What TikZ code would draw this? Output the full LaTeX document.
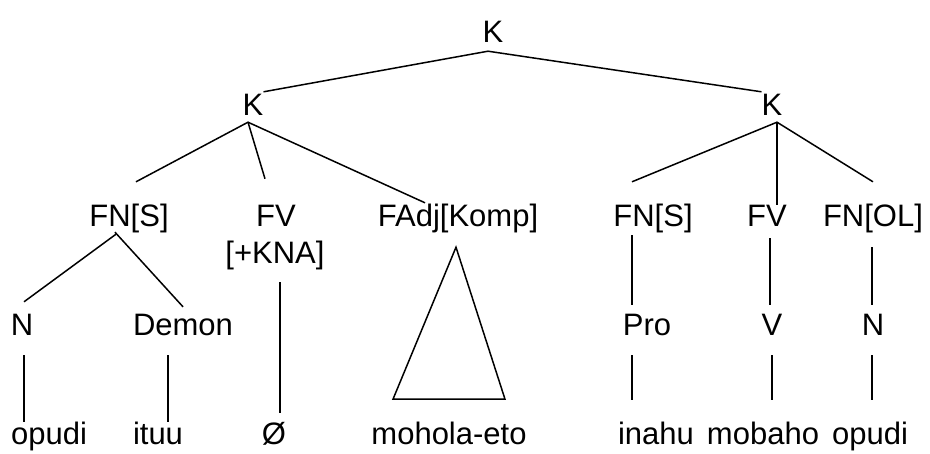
\documentclass[tikz,border=0pt]{standalone}
\usepackage{fontspec}
\setmainfont{Liberation Sans}
\tikzset{
  lbl/.style={font=\fontsize{31}{37}\selectfont, inner sep=0pt, text height=23pt, text depth=7pt, anchor=base},
  branch/.style={line width=1.5pt}
}
\begin{document}
\begin{tikzpicture}[x=1pt,y=-1pt]
\useasboundingbox (0,0) rectangle (930,453);
% clause nodes
\node[lbl] (K0) at (493,42) {K};
\node[lbl] (K1) at (253,115) {K};
\node[lbl] (K2) at (772,115) {K};
% phrases
\node[lbl] (FNS1) at (129,226) {FN[S]};
\node[lbl] (FV1) at (276,226) {FV};
\node[lbl] (KNA) at (275,263) {[+KNA]};
\node[lbl] (FAdj) at (458,226) {FAdj[Komp]};
\node[lbl] (FNS2) at (653,226) {FN[S]};
\node[lbl] (FV2) at (767,226) {FV};
\node[lbl] (FNOL) at (873,226) {FN[OL]};
% word classes
\node[lbl] (N1) at (22,335) {N};
\node[lbl] (Demon) at (183,335) {Demon};
\node[lbl] (Pro) at (647,335) {Pro};
\node[lbl] (V) at (772,335) {V};
\node[lbl] (N2) at (873,335) {N};
% words
\node[lbl] (opudi1) at (49,444) {opudi};
\node[lbl] (ituu) at (158,444) {ituu};
\node[lbl] (empty) at (274,444) {Ø};
\node[lbl] (mohola) at (449,444) {mohola-eto};
\node[lbl] (inahu) at (656,444) {inahu};
\node[lbl] (mobaho) at (763,444) {mobaho};
\node[lbl] (opudi2) at (870,444) {opudi};

\draw[branch] (K1.north east) -- ([shift={(-5pt,-2pt)}]K0.south) -- (K2.north west);
\draw[branch] ([shift={(7pt,21pt)}]FNS1.north) -- ([xshift=-5pt]K1.south) -- ([shift={(-33pt,0pt)}]FAdj.north);
\draw[branch] ([xshift=-5pt]K1.south) -- ([shift={(-11pt,24pt)}]FV1.north);
\draw[branch] ([shift={(-21pt,21pt)}]FNS2.north) -- ([xshift=5pt]K2.south) -- ([yshift=21pt]FNOL.north);
\draw[branch] ([xshift=5pt]K2.south) -- ([shift={(10pt,-2pt)}]FV2.north);
\draw[branch] ([shift={(-13pt,-1pt)}]FNS1.south) -- ([shift={(2pt,10pt)}]N1.north);
\draw[branch] ([shift={(-14pt,1pt)}]FNS1.south) -- ([yshift=5pt]Demon.north);
\draw[branch] ([shift={(5pt,-12pt)}]KNA.south) -- ([shift={(6pt,8pt)}]empty.north);
\draw[branch] ([shift={(-2pt,-14pt)}]FAdj.south) -- ++(-63,152) -- ++(112,0) -- cycle;
\draw[branch] ([shift={(-21pt,-2pt)}]FNS2.south) -- ([shift={(-15pt,7pt)}]Pro.north);
\draw[branch] ([shift={(3pt,-5pt)}]FV2.south) -- ([shift={(-2pt,7pt)}]V.north);
\draw[branch] ([shift={(-1pt,-14pt)}]FNOL.south) -- ([shift={(-1pt,7pt)}]N2.north);
\draw[branch] ([shift={(2pt,-13pt)}]N1.south) -- ([shift={(-25pt,-1pt)}]opudi1.north);
\draw[branch] ([shift={(-15pt,-13pt)}]Demon.south) -- ([shift={(10pt,-1pt)}]ituu.north);
\draw[branch] ([shift={(-15pt,-13pt)}]Pro.south) -- ([shift={(-24pt,21pt)}]inahu.north);
\draw[branch] ([yshift=-13pt]V.south) -- ([shift={(9pt,21pt)}]mobaho.north);
\draw[branch] ([shift={(-1pt,-13pt)}]N2.south) -- ([shift={(2pt,21pt)}]opudi2.north);
\end{tikzpicture}
\end{document}
